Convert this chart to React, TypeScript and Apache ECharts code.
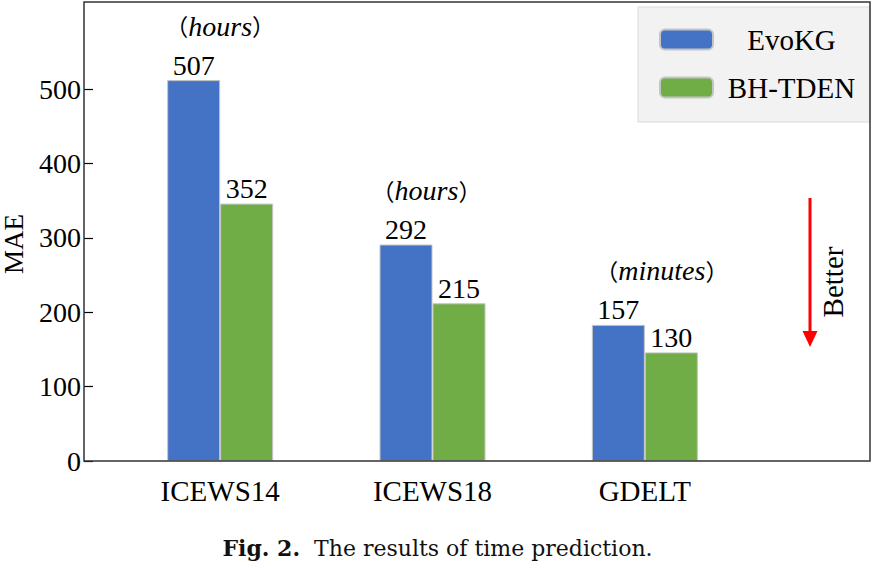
import React, { useEffect, useRef } from "react";
import * as echarts from "echarts";

const categories = ["ICEWS14", "ICEWS18", "GDELT"];
const seriesNames = ["EvoKG", "BH-TDEN"];
const evoKGBars = [512, 291, 183];
const bhTdenBars = [346, 212, 146];
const evoKGLabels = [507, 292, 157];
const bhTdenLabels = [352, 215, 130];
const unitLabels = ["hours", "hours", "minutes"];
const yTicks = [0, 100, 200, 300, 400, 500];
const yMax = 617;
const yAxisName = "MAE";
const betterText = "Better";
const captionBold = "Fig. 2.";
const captionText = "The results of time prediction.";

const SERIF = '"Liberation Serif", "Times New Roman", serif';
const CAPTION_FONT = '"DejaVu Serif", serif';
const CJK = '"Noto Sans CJK SC", sans-serif';
const unitDx = [0, -6, 17];

export default function App() {
  const ref = useRef<HTMLDivElement>(null);
  useEffect(() => {
    if (!ref.current) return;
    const chart = echarts.init(ref.current, null, { renderer: "svg" });
    const option: any = {
      animation: false,
      backgroundColor: "#ffffff",
      title: {
        text: `{b|${captionBold}}  ${captionText}`,
        left: "center",
        top: 537,
        padding: 0,
        textStyle: {
          fontFamily: CAPTION_FONT,
          fontSize: 22,
          fontWeight: "normal",
          color: "#111",
          rich: {
            b: { fontFamily: CAPTION_FONT, fontSize: 22, fontWeight: "bold", color: "#111" },
          },
        },
      },
      legend: {
        orient: "vertical",
        left: 638,
        top: 7,
        itemWidth: 53,
        itemHeight: 20,
        itemGap: 19,
        padding: [18, 5, 20, 21],
        backgroundColor: "#f2f2f2",
        borderColor: "#d9d9d9",
        borderWidth: 1,
        data: seriesNames,
        formatter: "{a|{name}}",
        textStyle: {
          fontFamily: SERIF,
          fontSize: 29,
          color: "#000",
          rich: { a: { width: 147, align: "center", fontSize: 29, fontFamily: SERIF, lineHeight: 30, color: "#000" } },
        },
      },
      grid: { left: 114, right: 124, top: 2, bottom: 109, outerBoundsMode: "none", containLabel: false },
      xAxis: {
        type: "category",
        data: categories,
        axisLine: { show: false },
        axisTick: { show: false },
        axisLabel: { fontSize: 29, fontFamily: SERIF, color: "#000", margin: 15 },
      },
      yAxis: {
        type: "value",
        min: 0,
        max: yMax,
        interval: 100,
        offset: 30,
        axisLine: { show: false },
        axisTick: { show: true, inside: true, length: 9, lineStyle: { color: "#000", width: 1.2 }, customValues: yTicks },
        axisLabel: { customValues: yTicks, fontSize: 28, fontFamily: SERIF, color: "#000", margin: 3 },
        splitLine: { show: false },
        name: yAxisName,
        nameLocation: "middle",
        nameGap: 57,
        nameTextStyle: { fontSize: 27, fontFamily: SERIF, color: "#000", padding: [0, 25, 0, 0] },
      },
      series: [
        {
          name: seriesNames[0],
          type: "bar",
          data: evoKGBars,
          barWidth: 53,
          barGap: "0%",
          itemStyle: { color: "#4472C4", borderColor: "#c4c4c4", borderWidth: 1 },
          label: {
            show: true,
            position: "top",
            distance: 1,
            formatter: (p: any) => String(evoKGLabels[p.dataIndex]),
            fontSize: 28,
            fontFamily: SERIF,
            color: "#000",
          },
        },
        {
          name: seriesNames[1],
          type: "bar",
          data: bhTdenBars,
          barWidth: 53,
          barGap: "0%",
          itemStyle: { color: "#70AD47", borderColor: "#c4c4c4", borderWidth: 1 },
          label: {
            show: true,
            position: "top",
            distance: 1,
            formatter: (p: any) => String(bhTdenLabels[p.dataIndex]),
            fontSize: 28,
            fontFamily: SERIF,
            color: "#000",
          },
        },
      ],
    };
    chart.setOption(option);

    const graphics: any[] = [
      {
        type: "rect",
        shape: { x: 84, y: 2, width: 786, height: 459 },
        style: { fill: "none", stroke: "#333", lineWidth: 1.5 },
        silent: true,
        z: 5,
      },
      {
        type: "line",
        shape: { x1: 810, y1: 198, x2: 810, y2: 334 },
        style: { stroke: "#ff0000", lineWidth: 3 },
        silent: true,
      },
      {
        type: "polygon",
        shape: { points: [[802.5, 331], [817.5, 331], [810, 347]] },
        style: { fill: "#ff0000" },
        silent: true,
      },
      {
        type: "text",
        x: 833,
        y: 282,
        rotation: Math.PI / 2,
        style: {
          text: betterText,
          fontFamily: SERIF,
          fontSize: 29,
          fill: "#000",
          align: "center",
          verticalAlign: "middle",
        },
        silent: true,
      },
    ];
    categories.forEach((c, i) => {
      const pt = chart.convertToPixel({ xAxisIndex: 0, yAxisIndex: 0 }, [c, evoKGBars[i]]) as number[];
      graphics.push({
        type: "text",
        x: pt[0] + unitDx[i],
        y: pt[1] - 54,
        style: {
          text: `{p|（}{i|${unitLabels[i]}}{p|）}`,
          align: "center",
          verticalAlign: "middle",
          rich: {
            p: { fontFamily: CJK, fontSize: 23, fill: "#000", color: "#000" },
            i: { fontFamily: SERIF, fontSize: 28, fontStyle: "italic", fill: "#000", color: "#000" },
          },
        },
        silent: true,
      });
    });
    chart.setOption({ graphic: graphics });

    return () => chart.dispose();
  }, []);
  return (
    <div
      ref={ref}
      style={{ position: "fixed", left: 0, top: 0, width: 875, height: 570, background: "#fff" }}
    />
  );
}
